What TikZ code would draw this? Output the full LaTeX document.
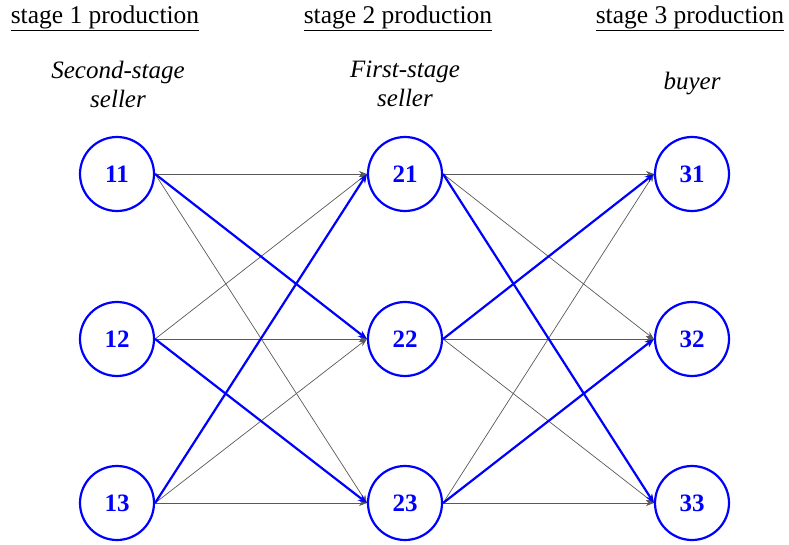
\documentclass[tikz,border=0pt]{standalone}
\usepackage{fontspec}
\setmainfont{Liberation Serif}
\usetikzlibrary{arrows.meta}
\begin{document}
\begin{tikzpicture}[x=1pt,y=-1pt,
  stnode/.style={circle,draw=blue,line width=2.2pt,minimum size=74pt,inner sep=0pt,text=blue,font=\fontsize{25}{30}\selectfont\bfseries},
  hdr/.style={font=\fontsize{25.5}{30}\selectfont,inner sep=0pt},
  role/.style={font=\fontsize{25}{29}\selectfont\itshape,align=center,inner sep=0pt},
  thin/.style={draw=black!65,line width=0.7pt,-{Stealth[length=8pt,width=6pt]}},
  thick/.style={draw=blue,line width=2.2pt,-{Stealth[length=9pt,width=7pt]}}]
\useasboundingbox (0,0) rectangle (789,545);
\node[hdr] (h1) at (105,18) {\underline{stage 1 production}};
\node[hdr] (h2) at (398,18) {\underline{stage 2 production}};
\node[hdr] (h3) at (690,18) {\underline{stage 3 production}};
\node[role] (r1) at (118,84) {Second-stage\\seller};
\node[role] (r2) at (405,84) {First-stage\\seller};
\node[role] (r3) at (692,84) {buyer};
\foreach \c/\x in {1/117,2/405,3/692}{
  \foreach \r/\y in {1/174,2/339,3/503}{
    \node[stnode] (n\c\r) at (\x,\y) {\c\r};
  }
}
\foreach \a in {1,2,3}{
  \foreach \b in {1,2,3}{
    \draw[thin] (n1\a.east) -- (n2\b.west);
    \draw[thin] (n2\a.east) -- (n3\b.west);
  }
}
\draw[thick] (n11.east) -- (n22.west);
\draw[thick] (n12.east) -- (n23.west);
\draw[thick] (n13.east) -- (n21.west);
\draw[thick] (n21.east) -- (n33.west);
\draw[thick] (n22.east) -- (n31.west);
\draw[thick] (n23.east) -- (n32.west);
\end{tikzpicture}
\end{document}
